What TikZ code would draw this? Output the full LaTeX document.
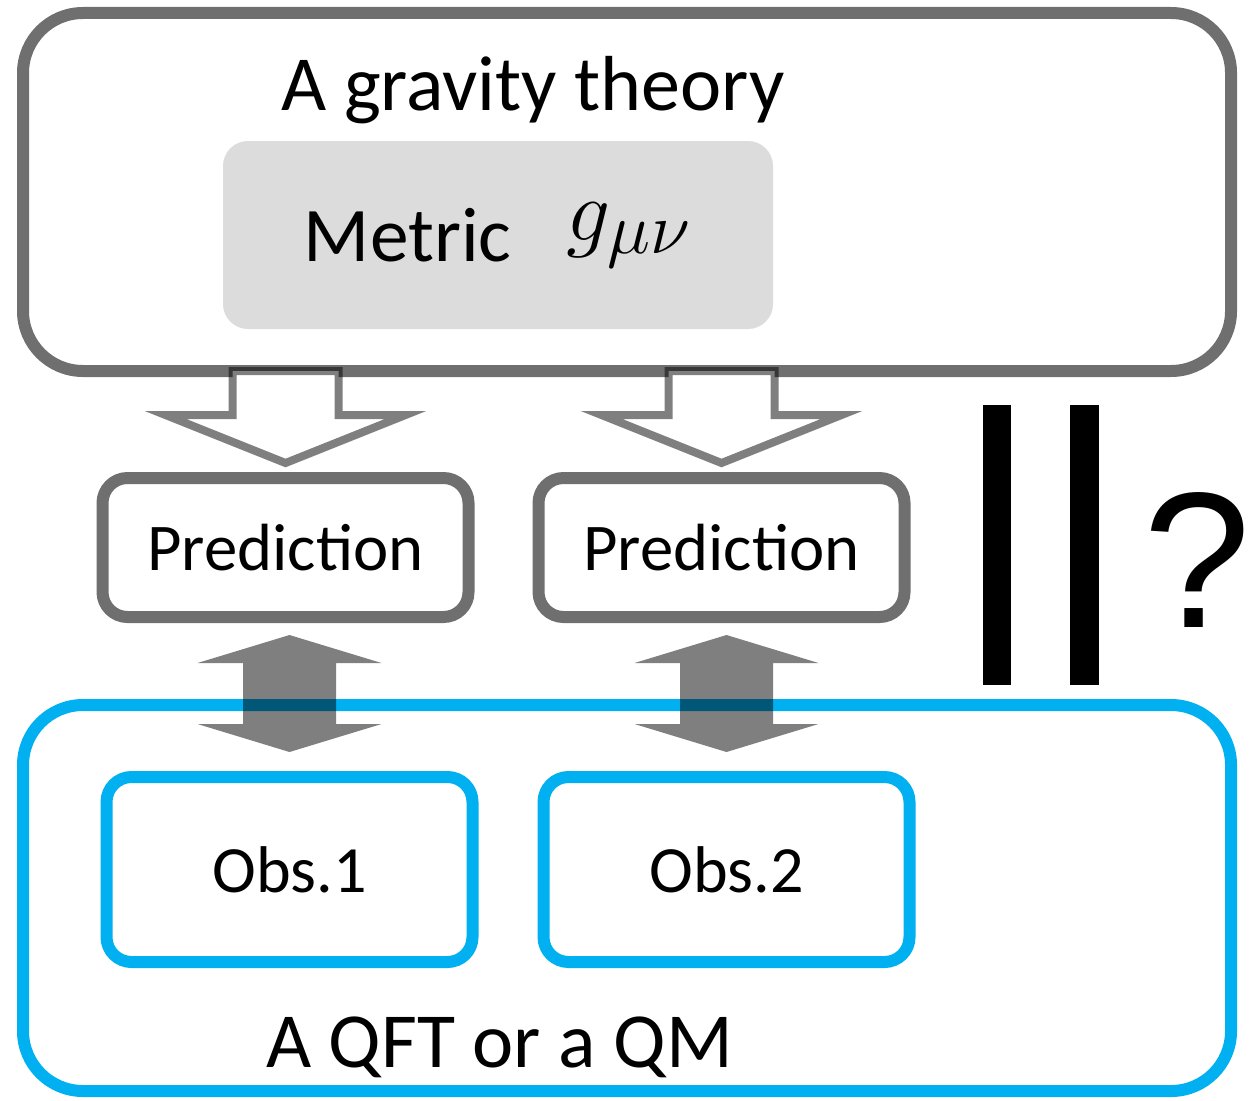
\documentclass[tikz,border=0pt]{standalone}
\usepackage{fontspec}
\setmainfont{Carlito}
\newfontfamily\qfont{Liberation Sans}
\usetikzlibrary{positioning,calc}
\definecolor{cgray}{HTML}{6F6F6F}
\definecolor{cblue}{HTML}{00B0F0}
\definecolor{cmetric}{HTML}{DCDCDC}
\newcommand{\predtext}{Predic\kern0pt tion}
\tikzset{
  bigbox/.style={rectangle,draw=cgray,fill=white,line width=1.2mm,rounded corners=6mm,minimum width=120.8mm,outer sep=0pt},
  predbox/.style={rectangle,draw=cgray,fill=white,line width=1.2mm,rounded corners=2.5mm,minimum width=36.6mm,minimum height=13.9mm,inner sep=0pt,font=\fontsize{19}{23}\selectfont},
  obsbox/.style={predbox,draw=cblue,minimum height=18.5mm,font=\fontsize{18.8}{23}\selectfont},
  metricbox/.style={rectangle,fill=cmetric,rounded corners=2.5mm,minimum width=55mm,minimum height=18.8mm,inner sep=0pt,font=\fontsize{22}{27}\selectfont},
  boxtitle/.style={anchor=base,inner sep=0pt,font=\fontsize{22.2}{27}\selectfont},
  hollow/.style={draw=black,draw opacity=0.5,fill=white,line width=0.8mm,line join=miter},
  bothway/.style={fill=black,fill opacity=0.5},
}

\begin{document}
\begin{tikzpicture}
  \useasboundingbox (0,0) rectangle (12.57,-11.00);
  % gravity side
  \node[bigbox,minimum height=35.8mm] (grav) at (6.27,-1.92) {};
  \node[boxtitle] (gravlabel) at (5.33,-1.10) {A gravity theory};
  \node[metricbox] (metric) at (4.98,-2.35) {Metric\hspace{5.5mm}\raisebox{2.1mm}{\fontsize{29.5}{34}\selectfont$g_{\mu\nu}$}};
  \node[predbox] (pred1) at (2.855,-5.475) {\predtext};
  \node[predbox,right=5.8mm of pred1] (pred2) {\predtext};
  % quantum side
  \node[bigbox,draw=cblue,minimum height=38.6mm] (qft) at (6.27,-8.98) {};
  \node[obsbox,below=14.8mm of pred1,xshift=0.4mm] (obs1) {Obs.1};
  \node[obsbox,right=5.9mm of obs1] (obs2) {Obs.2};
  \node[boxtitle] (qftlabel) at (4.995,-10.67) {A QFT or a QM};
  % arrows
  \foreach \i in {1,2}{
    \coordinate (top\i) at (pred\i.north |- grav.south);
    \draw[hollow] ($(top\i)+(-0.53,0)$) -- ++(0,-0.44) -- ++(-0.67,0)
      -- ($(pred\i.north)+(0,0.09)$) -- ($(top\i)+(1.20,-0.44)$)
      -- ++(-0.67,0) -- ++(0,0.44) -- cycle;
    \coordinate (mid\i) at (obs\i.north |- pred\i.south);
    \fill[bothway] ($(mid\i)+(0,-0.12)$) -- ++(0.92,-0.28) -- ++(-0.455,0)
      -- ++(0,-0.61) -- ++(0.455,0) -- ++(-0.92,-0.28) -- ++(-0.92,0.28)
      -- ++(0.455,0) -- ++(0,0.61) -- ++(-0.455,0) -- cycle;
  }
  % equal?
  \fill (9.83,-4.05) rectangle (10.11,-6.85);
  \fill (10.70,-4.05) rectangle (10.99,-6.85);
  \node[anchor=base,inner sep=0pt,font=\qfont\fontsize{55}{60}\selectfont] (qmark) at (11.97,-6.27) {?};
\end{tikzpicture}
\end{document}
